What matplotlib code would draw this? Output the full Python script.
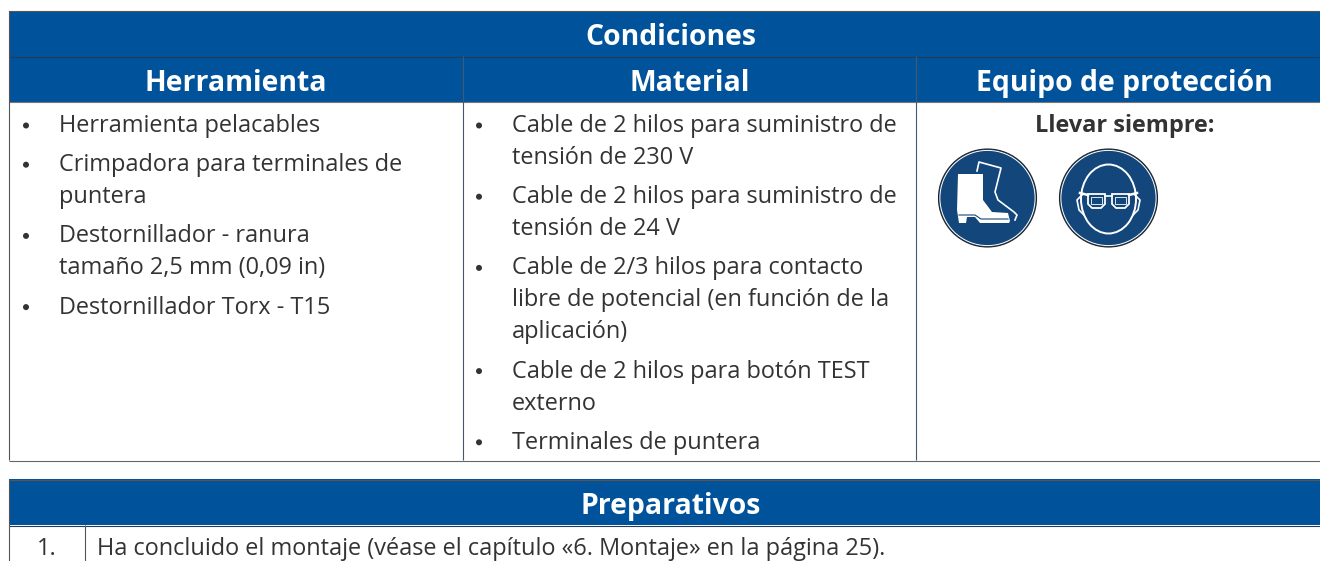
import matplotlib
matplotlib.use("Agg")
from matplotlib import pyplot as plt
from matplotlib.patches import Circle, Ellipse, Polygon, Rectangle

BLUE = "#00539b"
ICON = "#13467a"
INK = "#333333"
LINE = "#555555"

title_top = "Condiciones"
col_heads = ["Herramienta", "Material", "Equipo de protección"]
tools = [
    ["Herramienta pelacables"],
    ["Crimpadora para terminales de", "puntera"],
    ["Destornillador - ranura", "tamaño 2,5 mm (0,09 in)"],
    ["Destornillador Torx - T15"],
]
materials = [
    ["Cable de 2 hilos para suministro de", "tensión de 230 V"],
    ["Cable de 2 hilos para suministro de", "tensión de 24 V"],
    ["Cable de 2/3 hilos para contacto", "libre de potencial (en función de la", "aplicación)"],
    ["Cable de 2 hilos para botón TEST", "externo"],
    ["Terminales de puntera"],
]
protect_head = "Llevar siempre:"
title_bottom = "Preparativos"
step_no = "1."
step_text = "Ha concluido el montaje (véase el capítulo «6. Montaje» en la página 25)."

plt.rcParams["font.family"] = ["Open Sans", "DejaVu Sans"]

fig = plt.figure(figsize=(13.2, 5.61), dpi=100)
ax = fig.add_axes([0, 0, 1, 1])
ax.set_xlim(0, 1320)
ax.set_ylim(561, 0)
ax.axis("off")

BODY = 16.9


def hline(y, x0=9, x1=1320, color=LINE, lw=0.8):
    ax.plot([x0, x1], [y, y], color=color, lw=lw, solid_capstyle="butt")


def vline(x, y0, y1, color=LINE, lw=0.8):
    ax.plot([x, x], [y0, y1], color=color, lw=lw, solid_capstyle="butt")


def bullets(items, x_dot, x_text, y=132):
    # y is the baseline of the first line
    for lines in items:
        ax.add_patch(Circle((x_dot, y - 6.5), 3, fc=INK, ec="none"))
        for i, line in enumerate(lines):
            ax.text(x_text, y, line, fontsize=BODY, color=INK, ha="left", va="baseline")
            if i < len(lines) - 1:
                y += 32
        y += 39.2


# headers
ax.add_patch(Rectangle((9, 11), 1311, 91, fc=BLUE, ec="none"))
ax.add_patch(Rectangle((9, 479), 1311, 46, fc=BLUE, ec="none"))
hline(11)
hline(56.5, color="#243b55")
hline(102, color="#777777")
hline(460.5, color="#666666")
hline(479.5)
hline(525.5, color="#243b55")
vline(9, 11, 460)
vline(9, 479, 561)
vline(85, 525, 561)
vline(463, 56, 460, color="#44596f")
vline(916, 56, 460, color="#44596f")

head = dict(color="white", fontsize=20.4, fontweight="bold", ha="center", va="baseline")
ax.text(671, 45, title_top, **head)
ax.text(236, 91, col_heads[0], **head)
ax.text(690, 91, col_heads[1], **head)
ax.text(1124, 91, col_heads[2], **head)
ax.text(671, 514, title_bottom, **head)

bullets(tools, 26, 59)
bullets(materials, 479, 512)
ax.text(1125, 132, protect_head, fontsize=BODY, fontweight="bold", color=INK, ha="center", va="baseline")

ax.text(47, 555, step_no, fontsize=BODY, color=INK, ha="center", va="baseline")
ax.text(97, 555, step_text, fontsize=BODY, color=INK, ha="left", va="baseline")

# boots icon
ax.add_patch(Circle((987.5, 198), 49, fc=ICON, ec="#222222", lw=0.8))
ax.add_patch(Circle((987.5, 198), 47.6, fc="none", ec="white", lw=0.7))
front_boot = [(958, 174), (983, 174), (983, 200), (992, 212), (1008, 213), (1010, 221), (1009, 223),
              (980, 223), (975, 217), (967, 217), (966, 223), (959, 223), (957, 210)]
back_boot = [(977, 171), (979, 162), (1001, 168), (995, 192), (998, 200), (1014, 212), (1017, 215), (1015, 220)]
ax.add_patch(Polygon(front_boot, closed=True, fc="white", ec="none"))
ax.plot(*zip(*back_boot), color="white", lw=1.2)
ax.plot([959, 975, 981, 1008], [215, 215, 219, 219], color=ICON, lw=0.8)

# face and goggles icon
ax.add_patch(Circle((1108.5, 198), 49, fc=ICON, ec="#222222", lw=0.8))
ax.add_patch(Circle((1108.5, 198), 47.6, fc="none", ec="white", lw=0.7))
ax.add_patch(Ellipse((1108.5, 199), 55, 69, fc="none", ec="white", lw=1.4))
for x0, x1 in ((1088, 1105), (1112, 1129)):
    lens = [(x0, 194), (x1, 194), (x1, 204), (x1 - 4, 208), (x0 + 4, 208), (x0, 204)]
    ax.add_patch(Polygon(lens, closed=True, fc=ICON, ec="white", lw=1.3))
    ax.add_patch(Rectangle((x0 + 3, 197), x1 - x0 - 6, 7, fc="none", ec="white", lw=0.6))
ax.plot([1080, 1088], [193, 195], color="white", lw=1.8)
ax.plot([1129, 1137], [195, 193], color="white", lw=1.8)
ax.plot([1105, 1112], [196, 196], color="white", lw=1.2)
ax.plot([1083, 1077, 1079, 1084], [194, 200, 210, 215], color="white", lw=1.2)
ax.plot([1134, 1140, 1138, 1133], [194, 200, 210, 215], color="white", lw=1.2)

fig.savefig("out.png", dpi=100)
